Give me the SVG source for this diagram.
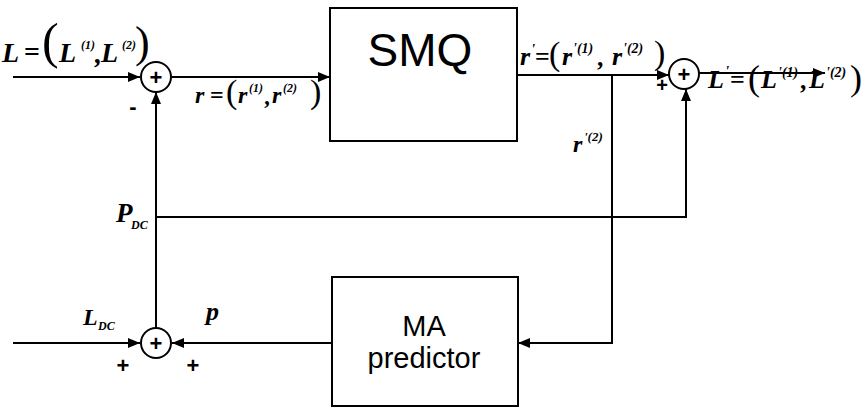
<svg xmlns="http://www.w3.org/2000/svg" width="861" height="408" viewBox="0 0 861 408">
<defs>
<marker id="ah" viewBox="0 0 12 10" refX="12" refY="5" markerWidth="12" markerHeight="10" markerUnits="userSpaceOnUse" orient="auto">
<path d="M0,0 L12,5 L0,10 Z" fill="#000"/>
</marker>
<style>
.ln{fill:none;stroke:#000;stroke-width:2}
.bx{fill:#fff;stroke:#000;stroke-width:2}
.sum{fill:#fff;stroke:#000;stroke-width:2}
.pl{font-family:"Liberation Sans",Arial,sans-serif;font-weight:bold;text-anchor:middle}
.bt{font-family:"Liberation Sans",Arial,sans-serif;text-anchor:middle;fill:#000}
.m{font-family:"Liberation Serif","Times New Roman",serif;font-style:italic;font-weight:bold;fill:#000}
.up{font-style:normal}
.par{font-style:normal;font-weight:normal}
</style>
</defs>
<g id="connectors">
<path class="ln" d="M13,77 H140" marker-end="url(#ah)"/>
<path class="ln" d="M171,77 H330" marker-end="url(#ah)"/>
<path class="ln" d="M517,75 H669" marker-end="url(#ah)"/>
<path class="ln" d="M699,73 H825" marker-end="url(#ah)"/>
<path class="ln" d="M612,75 V343 H518" marker-end="url(#ah)"/>
<path class="ln" d="M156,328 V92" marker-end="url(#ah)"/>
<path class="ln" d="M156,217 H686 V89" marker-end="url(#ah)"/>
<path class="ln" d="M332,343 H172" marker-end="url(#ah)"/>
<path class="ln" d="M13,343 H140" marker-end="url(#ah)"/>
</g>
<g id="sum1">
<circle class="sum" cx="156" cy="77" r="15"/>
<text class="pl" x="156" y="85" font-size="22">+</text>
</g>
<g id="sum2">
<circle class="sum" cx="684" cy="74" r="15"/>
<text class="pl" x="684" y="82" font-size="22">+</text>
</g>
<g id="sum3">
<circle class="sum" cx="156" cy="343" r="15"/>
<text class="pl" x="156" y="351" font-size="22">+</text>
</g>
<g id="smq">
<rect class="bx" x="330" y="8" width="187" height="133"/>
<text class="bt" x="420" y="66" font-size="46">SMQ</text>
</g>
<g id="ma">
<rect class="bx" x="332" y="277" width="186" height="129"/>
<text class="bt" x="424" y="336" font-size="29">MA</text>
<text class="bt" x="424" y="368" font-size="29">predictor</text>
</g>
<g id="labels">
<text class="m" font-size="28">
<tspan x="2" y="62">L</tspan><tspan class="up" x="24" y="61">=</tspan><tspan class="par" x="42" y="58" font-size="50">(</tspan><tspan x="59" y="62">L</tspan><tspan x="81" y="49" font-size="12">(1)</tspan><tspan x="95" y="63">,</tspan><tspan x="101" y="62">L</tspan><tspan x="122" y="49" font-size="12">(2)</tspan><tspan class="par" x="135" y="57" font-size="44">)</tspan>
</text>
<text class="m" font-size="24">
<tspan x="195" y="103">r</tspan><tspan class="up" x="210" y="103">=</tspan><tspan class="par" x="226" y="103" font-size="34">(</tspan><tspan x="238" y="103">r</tspan><tspan x="249" y="92" font-size="12">(1)</tspan><tspan x="265" y="104">,</tspan><tspan x="272" y="103">r</tspan><tspan x="283" y="92" font-size="12">(2)</tspan><tspan class="par" x="310" y="103" font-size="34">)</tspan>
</text>
<text class="m" font-size="26">
<tspan x="520" y="65">r</tspan><tspan x="531" y="54" font-size="15">'</tspan><tspan class="up" x="535" y="65">=</tspan><tspan class="par" x="549" y="65" font-size="34">(</tspan><tspan x="562" y="65">r</tspan><tspan x="573" y="53" font-size="14">'(1)</tspan><tspan x="598" y="66">,</tspan><tspan x="612" y="65">r</tspan><tspan x="623" y="53" font-size="14">'(2)</tspan><tspan class="par" x="654" y="64" font-size="34">)</tspan>
</text>
<text class="m" font-size="24">
<tspan x="573" y="152">r</tspan><tspan x="584" y="141" font-size="13">'(2)</tspan>
</text>
<text class="m" font-size="26">
<tspan x="708" y="88">L</tspan><tspan x="725" y="76" font-size="15">'</tspan><tspan class="up" x="730" y="88">=</tspan><tspan class="par" x="748" y="90" font-size="36">(</tspan><tspan x="761" y="88">L</tspan><tspan x="778" y="77" font-size="14">'(1)</tspan><tspan x="801" y="89">,</tspan><tspan x="809" y="88">L</tspan><tspan x="826" y="77" font-size="14">'(2)</tspan><tspan class="par" x="850" y="90" font-size="36">)</tspan>
</text>
<text class="m" font-size="27"><tspan x="116" y="222">P</tspan><tspan x="131" y="229" font-size="12">DC</tspan></text>
<text class="m" font-size="24"><tspan x="83" y="325">L</tspan><tspan x="98" y="330" font-size="12">DC</tspan></text>
<text class="m" font-size="26" x="206" y="320">p</text>
<text class="pl" x="133" y="114" font-size="22">-</text>
<text class="pl" x="123" y="373" font-size="22">+</text>
<text class="pl" x="193" y="373" font-size="22">+</text>
<text class="pl" x="662" y="92" font-size="20">+</text>
</g>
</svg>
